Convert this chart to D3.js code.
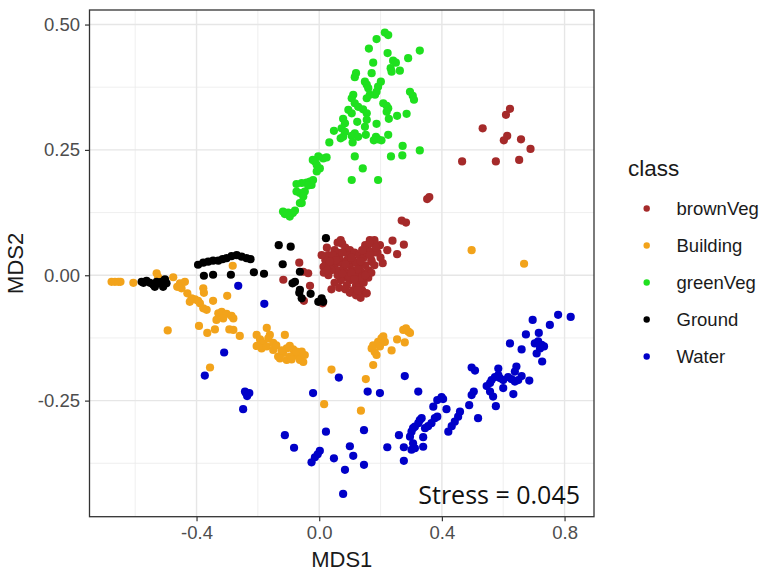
<!DOCTYPE html>
<html>
<head>
<meta charset="utf-8">
<script src="https://cdn.jsdelivr.net/npm/d3@7"></script>
<style>
  html, body { margin: 0; padding: 0; background: #fff; }
  svg { display: block; }
</style>
</head>
<body>
<svg id="chart" width="764" height="573"></svg>
<script>
// NMDS ordination of spectral samples, coloured by land-cover class
const classes = ["brownVeg", "Building", "greenVeg", "Ground", "Water"];
const classColors = ["#A52A2A", "#F2A31B", "#1FE01F", "#000000", "#0000C8"];

const xTicks = [-0.4, 0.0, 0.4, 0.8];
const xTickLabels = ["-0.4", "0.0", "0.4", "0.8"];
const xMinor = [-0.6, -0.2, 0.2, 0.6];
const yTicks = [-0.25, 0.0, 0.25, 0.5];
const yTickLabels = ["-0.25", "0.00", "0.25", "0.50"];
const yMinor = [-0.375, -0.125, 0.125, 0.375];
const stressLabel = "Stress = 0.045";

// [MDS1, MDS2]
const brownVeg = [
  [0.622,0.332],[0.609,0.320],[0.533,0.293],[0.613,0.278],[0.602,0.269],[0.658,0.271],[0.689,0.252],
  [0.466,0.227],[0.576,0.227],[0.652,0.230],
  [0.352,0.152],[0.359,0.156],[0.269,0.109],[0.283,0.105],
  [0.165,0.070],[0.198,0.060],[0.239,0.069],[0.276,0.061],[0.176,0.045],[0.222,0.050],[0.254,0.042],
  [0.207,0.024],[0.171,0.027],
  [0.070,0.070],[0.075,0.063],[0.050,0.050],[0.030,0.040],[0.020,0.030],[0.040,0.030],[0.060,0.045],
  [0.085,0.055],[0.100,0.050],
  [0.050,0.020],[0.060,0.010],[0.070,0.025],[0.080,0.015],[0.090,0.005],[0.100,0.020],[0.110,0.010],
  [0.120,0.000],[0.130,0.015],[0.140,0.005],[0.080,-0.005],[0.090,0.030],[0.100,-0.010],[0.110,0.030],
  [0.120,0.025],[0.130,-0.010],[0.150,0.020],[0.160,0.010],[0.070,-0.010],[0.060,0.000],[0.040,0.010],
  [0.030,0.000],[0.020,0.020],[0.050,-0.015],[0.095,0.040],[0.115,0.045],[0.130,0.040],[0.145,0.035],
  [0.155,0.045],
  [0.160,0.050],[0.170,0.065],[0.180,0.070],[0.150,0.060],[0.190,0.045],[0.200,0.035],[0.170,0.030],
  [0.180,0.020],[0.140,0.050],
  [0.120,-0.020],[0.130,-0.025],[0.140,-0.030],[0.110,-0.030],[0.100,-0.035],[0.090,-0.020],
  [0.120,-0.040],[0.145,-0.015],[0.160,-0.005],[0.170,0.005],
  [0.040,-0.028],[0.152,-0.036],[0.014,0.017],[0.015,0.005],[0.025,0.055],[0.060,0.065],
  [0.065,-0.025],[0.085,-0.028],[0.155,-0.036],[0.165,0.064],
  [0.045,0.040],[0.065,0.035],[0.075,0.045],[0.105,0.035],[0.125,0.012],[0.135,0.028],[0.095,-0.002],
  [0.085,0.022],[0.105,0.005],[0.115,-0.008],[0.075,0.003],[0.055,0.030],[0.035,0.020],[0.140,-0.005],
  [0.125,-0.030],[0.135,-0.045],[0.150,0.000],[0.165,0.040],[0.185,0.055],[0.025,0.010],
  [-0.065,0.025],[-0.117,-0.009],[-0.052,0.007],[-0.036,0.004],[-0.030,-0.021],[-0.050,-0.051],
  [0.011,-0.056],[0.008,0.040],[0.035,0.027]
];

const building = [
  [-0.677,-0.013],[-0.666,-0.013],[-0.655,-0.013],[-0.648,-0.013],[-0.606,-0.015],[-0.530,0.004],
  [-0.525,-0.004],[-0.476,-0.004],[-0.454,-0.016],[-0.463,-0.023],[-0.449,-0.026],[-0.438,-0.013],
  [-0.430,-0.036],[-0.416,-0.046],[-0.405,-0.048],[-0.395,-0.051],[-0.389,-0.056],[-0.422,-0.053],
  [-0.378,-0.026],[-0.376,-0.035],[-0.346,-0.051],[-0.378,-0.066],[-0.367,-0.069],[-0.300,-0.041],
  [-0.329,-0.076],[-0.318,-0.073],[-0.302,-0.077],[-0.286,-0.081],[-0.280,-0.086],[-0.313,-0.086],
  [-0.335,-0.089],[-0.340,-0.108],[-0.392,-0.101],[-0.365,-0.115],[-0.293,-0.108],[-0.280,-0.109],
  [-0.259,-0.121],[-0.494,-0.110],[-0.282,0.019],[-0.356,-0.184],
  [-0.204,-0.119],[-0.193,-0.128],[-0.171,-0.105],[-0.161,-0.119],[-0.183,-0.136],[-0.204,-0.141],
  [-0.188,-0.146],[-0.171,-0.142],[-0.150,-0.149],[-0.134,-0.162],[-0.118,-0.155],[-0.112,-0.119],
  [-0.106,-0.146],[-0.096,-0.141],[-0.085,-0.148],[-0.079,-0.156],[-0.068,-0.162],[-0.063,-0.169],
  [-0.052,-0.173],[-0.047,-0.159],[-0.057,-0.152],[-0.106,-0.169],[-0.096,-0.162],[-0.128,-0.166],
  [-0.090,-0.168],[-0.074,-0.152],[-0.166,-0.126],[-0.150,-0.135],[-0.140,-0.140],[-0.123,-0.150],
  [0.187,-0.159],[0.181,-0.153],[0.171,-0.146],[0.176,-0.140],[0.192,-0.133],[0.203,-0.126],
  [0.209,-0.122],[0.198,-0.142],[0.214,-0.133],[0.236,-0.150],[0.254,-0.128],[0.279,-0.134],
  [0.283,-0.106],[0.290,-0.112],[0.296,-0.115],[0.274,-0.109],
  [0.040,-0.188],[0.016,-0.257],[0.152,-0.207],[0.136,-0.270],[0.176,-0.179],
  [0.497,0.050],[0.668,0.023]
];

const greenVeg = [
  [0.214,0.484],[0.225,0.479],[0.187,0.471],[0.162,0.452],[0.328,0.448],[0.223,0.443],[0.290,0.433],
  [0.241,0.428],[0.250,0.424],[0.176,0.424],[0.233,0.413],[0.236,0.406],[0.263,0.408],[0.120,0.403],
  [0.116,0.395],[0.171,0.403],[0.149,0.386],[0.155,0.380],[0.160,0.373],[0.201,0.386],[0.192,0.376],
  [0.187,0.366],[0.182,0.360],[0.296,0.366],[0.305,0.358],[0.309,0.350],[0.111,0.360],[0.106,0.353],
  [0.116,0.343],[0.155,0.353],[0.165,0.360],[0.209,0.343],[0.220,0.338],[0.225,0.333],[0.220,0.326],
  [0.127,0.336],[0.143,0.331],[0.155,0.323],[0.095,0.330],[0.106,0.323],[0.254,0.318],[0.285,0.322],
  [0.227,0.312],[0.078,0.312],[0.084,0.303],[0.124,0.306],[0.155,0.310],[0.149,0.296],[0.187,0.302],
  [0.073,0.293],[0.084,0.286],[0.048,0.288],[0.116,0.283],[0.106,0.278],[0.127,0.276],[0.152,0.280],
  [0.070,0.273],[0.078,0.276],[0.185,0.276],[0.192,0.271],[0.203,0.269],[0.178,0.269],[0.225,0.280],
  [0.109,0.265],[0.033,0.265],[0.272,0.258],[0.328,0.249],[0.271,0.239],[0.234,0.237],[0.116,0.237],
  [0.024,0.235],[0.013,0.233],[-0.003,0.237],[-0.014,0.227],[-0.008,0.220],[0.002,0.213],[-0.008,0.207],
  [0.142,0.213],[0.106,0.190],[0.192,0.190],[-0.020,0.190],[-0.030,0.187],[-0.041,0.185],[-0.057,0.184],
  [-0.074,0.182],[-0.025,0.180],[-0.036,0.179],[-0.047,0.167],[-0.063,0.164],[-0.052,0.157],
  [-0.057,0.144],[-0.079,0.129],[-0.101,0.125],[-0.112,0.122],[-0.096,0.117],[-0.021,0.230],
  [-0.074,0.167],[-0.063,0.144],[-0.106,0.124],[-0.086,0.124],[-0.118,0.127]
];

const ground = [
  [-0.132,0.060],[-0.093,0.057],[-0.119,0.022],[-0.087,-0.016],[-0.063,0.007],[-0.065,-0.035],
  [-0.028,-0.037],[-0.057,-0.046],[-0.003,-0.053],[0.022,0.074],[-0.079,-0.013],[-0.063,-0.029],
  [0.008,-0.046],[0.013,-0.053],
  [-0.395,0.021],[-0.378,0.025],[-0.362,0.027],[-0.346,0.029],[-0.329,0.029],[-0.315,0.032],
  [-0.302,0.034],[-0.286,0.038],[-0.269,0.040],[-0.253,0.037],[-0.237,0.034],[-0.224,0.032],
  [-0.376,-0.001],[-0.346,0.001],[-0.288,0.001],[-0.213,0.006],[-0.180,0.003],
  [-0.579,-0.013],[-0.563,-0.011],[-0.552,-0.015],[-0.541,-0.019],[-0.536,-0.023],[-0.525,-0.016],
  [-0.514,-0.013],[-0.503,-0.008],[-0.498,-0.016],[-0.509,-0.023],[-0.530,-0.013],[-0.573,-0.015]
];

const water = [
  [-0.310,-0.154],[-0.373,-0.200],[-0.242,-0.232],[-0.228,-0.235],[-0.235,-0.241],[-0.239,-0.235],
  [-0.248,-0.267],[-0.020,-0.235],[0.064,-0.204],[0.158,-0.232],[0.198,-0.235],[-0.112,-0.319],
  [-0.082,-0.344],[0.022,-0.312],[0.002,-0.350],[-0.005,-0.357],[-0.014,-0.363],[-0.025,-0.373],
  [0.048,-0.365],[0.100,-0.341],[0.111,-0.360],[0.084,-0.388],[0.146,-0.309],[0.146,-0.378],
  [0.078,-0.436],[0.222,-0.343],[-0.264,-0.021],[-0.179,-0.057],[0.279,-0.201],[0.323,-0.232],
  [0.260,-0.319],[0.276,-0.343],[0.276,-0.370],[0.296,-0.322],[0.301,-0.312],[0.306,-0.305],
  [0.312,-0.302],[0.323,-0.295],[0.328,-0.289],[0.334,-0.285],[0.301,-0.348],[0.312,-0.345],
  [0.306,-0.335],[0.339,-0.342],[0.339,-0.323],[0.345,-0.305],[0.355,-0.301],[0.366,-0.295],
  [0.377,-0.285],[0.385,-0.282],[0.372,-0.262],[0.385,-0.249],[0.399,-0.243],[0.404,-0.247],
  [0.415,-0.267],[0.421,-0.312],[0.432,-0.301],[0.442,-0.292],[0.453,-0.282],[0.459,-0.272],
  [0.489,-0.259],[0.497,-0.239],[0.504,-0.232],[0.518,-0.285],[0.497,-0.184],[0.508,-0.190],
  [0.546,-0.221],[0.557,-0.215],[0.562,-0.209],[0.573,-0.203],[0.584,-0.199],[0.589,-0.205],
  [0.600,-0.209],[0.557,-0.232],[0.567,-0.242],[0.576,-0.261],[0.584,-0.186],[0.600,-0.225],
  [0.616,-0.203],[0.633,-0.237],[0.638,-0.192],[0.643,-0.182],[0.649,-0.209],[0.660,-0.201],
  [0.685,-0.210],[0.638,-0.212],[0.627,-0.207],
  [0.622,-0.136],[0.660,-0.148],[0.696,-0.089],[0.674,-0.118],[0.716,-0.115],[0.752,-0.099],
  [0.779,-0.079],[0.820,-0.083],[0.703,-0.136],[0.714,-0.132],[0.725,-0.139],[0.733,-0.142],
  [0.709,-0.156],[0.727,-0.172],[0.720,-0.146]
];

const seriesPoints = [brownVeg, building, greenVeg, ground, water];

// ---- layout ----
const svg = d3.select("#chart");
const panel = { left: 89.5, right: 594, top: 10, bottom: 516.7 };
const font = "'Liberation Sans', Arial, sans-serif";

const x = d3.scaleLinear().domain([-0.749, 0.896]).range([panel.left, panel.right]);
const y = d3.scaleLinear().domain([-0.4815, 0.529]).range([panel.bottom, panel.top]);

const color = d3.scaleOrdinal().domain(classes).range(classColors);

// panel grid
const grid = svg.append("g");
grid.selectAll("line.xminor").data(xMinor).join("line")
  .attr("x1", d => x(d)).attr("x2", d => x(d))
  .attr("y1", panel.top).attr("y2", panel.bottom)
  .attr("stroke", "#EBEBEB").attr("stroke-width", 0.8);
grid.selectAll("line.yminor").data(yMinor).join("line")
  .attr("y1", d => y(d)).attr("y2", d => y(d))
  .attr("x1", panel.left).attr("x2", panel.right)
  .attr("stroke", "#EBEBEB").attr("stroke-width", 0.8);
grid.selectAll("line.xmajor").data(xTicks).join("line")
  .attr("x1", d => x(d)).attr("x2", d => x(d))
  .attr("y1", panel.top).attr("y2", panel.bottom)
  .attr("stroke", "#E6E6E6").attr("stroke-width", 1.4);
grid.selectAll("line.ymajor").data(yTicks).join("line")
  .attr("y1", d => y(d)).attr("y2", d => y(d))
  .attr("x1", panel.left).attr("x2", panel.right)
  .attr("stroke", "#E6E6E6").attr("stroke-width", 1.4);

// points
const pts = svg.append("g");
classes.forEach((cls, i) => {
  pts.append("g").selectAll("circle").data(seriesPoints[i]).join("circle")
    .attr("cx", d => x(d[0]))
    .attr("cy", d => y(d[1]))
    .attr("r", 4.1)
    .attr("fill", color(cls));
});

// stress annotation
svg.append("text")
  .attr("x", 580).attr("y", 504)
  .attr("text-anchor", "end")
  .attr("font-family", "'Open Sans', sans-serif")
  .attr("font-size", 25)
  .attr("fill", "#111")
  .text(stressLabel);

// panel border
svg.append("rect")
  .attr("x", panel.left).attr("y", panel.top)
  .attr("width", panel.right - panel.left).attr("height", panel.bottom - panel.top)
  .attr("fill", "none").attr("stroke", "#333").attr("stroke-width", 1.3);

// axes
const xAxis = d3.axisBottom(x).tickValues(xTicks)
  .tickFormat((d, i) => xTickLabels[i]).tickSize(4.5).tickPadding(5);
const yAxis = d3.axisLeft(y).tickValues(yTicks)
  .tickFormat((d, i) => yTickLabels[i]).tickSize(4.5).tickPadding(5);

const gx = svg.append("g").attr("transform", `translate(0,${panel.bottom})`).call(xAxis);
const gy = svg.append("g").attr("transform", `translate(${panel.left},0)`).call(yAxis);
[gx, gy].forEach(g => {
  g.select(".domain").remove();
  g.selectAll(".tick line").attr("stroke", "#333").attr("stroke-width", 1.2);
  g.selectAll(".tick text").attr("fill", "#4D4D4D")
    .attr("font-family", font).attr("font-size", 18.5);
});

// axis titles
svg.append("text")
  .attr("x", (panel.left + panel.right) / 2).attr("y", 567)
  .attr("text-anchor", "middle")
  .attr("font-family", font).attr("font-size", 22).attr("fill", "#1a1a1a")
  .text("MDS1");
svg.append("text")
  .attr("transform", `translate(23,${(panel.top + panel.bottom) / 2}) rotate(-90)`)
  .attr("text-anchor", "middle")
  .attr("font-family", font).attr("font-size", 22).attr("fill", "#1a1a1a")
  .text("MDS2");

// legend
const legend = svg.append("g").attr("transform", "translate(628,0)");
legend.append("text")
  .attr("x", 0).attr("y", 176)
  .attr("font-family", font).attr("font-size", 22.5).attr("fill", "#1a1a1a")
  .text("class");
const items = legend.selectAll("g.item").data(classes).join("g")
  .attr("transform", (d, i) => `translate(0,${208.5 + i * 37})`);
items.append("circle")
  .attr("cx", 18.7).attr("cy", 0).attr("r", 3.2)
  .attr("fill", d => color(d));
items.append("text")
  .attr("x", 48.5).attr("y", 6.6)
  .attr("font-family", font).attr("font-size", 18.5).attr("fill", "#1a1a1a")
  .text(d => d);
</script>
</body>
</html>
